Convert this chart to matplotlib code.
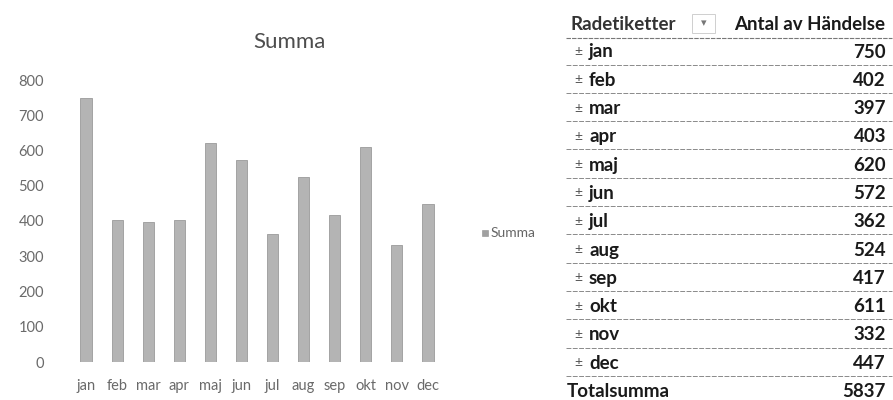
import matplotlib.pyplot as plt
from matplotlib.lines import Line2D
from matplotlib.patches import Rectangle

# data
months = ['jan', 'feb', 'mar', 'apr', 'maj', 'jun', 'jul', 'aug', 'sep', 'okt', 'nov', 'dec']
antal = [750, 402, 397, 403, 620, 572, 362, 524, 417, 611, 332, 447]
y_ticks = [0, 100, 200, 300, 400, 500, 600, 700, 800]
series_name = 'Summa'
header_left = 'Radetiketter'
header_right = 'Antal av Händelse'
total_label = 'Totalsumma'

plt.rcParams['font.family'] = ['Lato', 'DejaVu Sans']

fig = plt.figure(figsize=(8.93, 4.0), dpi=100)
W, H = 893, 400

def fx(px):
    return px / W

def fy(py):
    return 1 - py / H

# chart part
ax = fig.add_axes([fx(70.5), fy(362), fx(373), fy(80) - fy(362)])
ax.bar(range(len(months)), antal, width=0.36, color='#b4b4b4',
       edgecolor='#9a9a9a', linewidth=0.6)
ax.set_xlim(-0.5, len(months) - 0.5)
ax.set_ylim(0, 800)
ax.set_yticks(y_ticks)
ax.set_yticklabels([str(v) for v in y_ticks])
ax.set_xticks(range(len(months)))
ax.set_xticklabels(months)
ax.tick_params(length=0, labelsize=10.5, colors='#6a6a6a')
ax.tick_params(axis='y', pad=19)
ax.tick_params(axis='x', pad=12)
for s in ax.spines.values():
    s.set_visible(False)

fig.text(fx(289), fy(42), 'Summa', fontsize=16, color='#4d4d4d', ha='center', va='center')

# legend
fig.patches.append(Rectangle((fx(482), fy(236)), fx(6), fy(230) - fy(236),
                             transform=fig.transFigure, facecolor='#a0a0a0',
                             edgecolor='#909090', linewidth=0.4))
fig.text(fx(491), fy(233), series_name, fontsize=10, color='#666666', va='center')

# pivot table
x0, x1 = 566, 892
fs = 13.5
row0 = 52
row_h = 28.3
fig.text(fx(571), fy(24), header_left, fontsize=fs, fontweight='bold', color='#333333', va='center')
fig.patches.append(Rectangle((fx(692), fy(33)), fx(23), fy(14) - fy(33),
                             transform=fig.transFigure, facecolor='white',
                             edgecolor='#cfcfcf', linewidth=0.7))
fig.text(fx(703.5), fy(23), '\u25be', fontsize=8, color='#777777', ha='center', va='center',
         family=['DejaVu Sans'])
fig.text(fx(885), fy(24), header_right, fontsize=fs, fontweight='bold', color='#1a1a1a',
         ha='right', va='center')
fig.add_artist(Line2D([fx(x0), fx(x1)], [fy(38), fy(38)], transform=fig.transFigure,
                      color='#777777', linewidth=0.8, linestyle=(0, (4, 1))))

for i, (m, v) in enumerate(zip(months, antal)):
    yc = row0 + i * row_h
    fig.text(fx(574), fy(yc - 1), '\u00b1', fontsize=10, color='#555555', va='center')
    fig.text(fx(589), fy(yc), m, fontsize=fs, fontweight='bold', color='#1a1a1a', va='center')
    fig.text(fx(886), fy(yc), str(v), fontsize=fs, fontweight='bold', color='#1a1a1a',
             ha='right', va='center')
    ly = yc + 12.5
    fig.add_artist(Line2D([fx(x0), fx(x1)], [fy(ly), fy(ly)], transform=fig.transFigure,
                          color='#8a8a8a', linewidth=0.7, linestyle=(0, (5, 1.5))))

yt = row0 + len(months) * row_h
fig.text(fx(567), fy(yt), total_label, fontsize=fs, fontweight='bold', color='#1a1a1a', va='center')
fig.text(fx(886), fy(yt), str(sum(antal)), fontsize=fs, fontweight='bold', color='#1a1a1a',
         ha='right', va='center')

fig.savefig('out.png', dpi=100, facecolor='white')
